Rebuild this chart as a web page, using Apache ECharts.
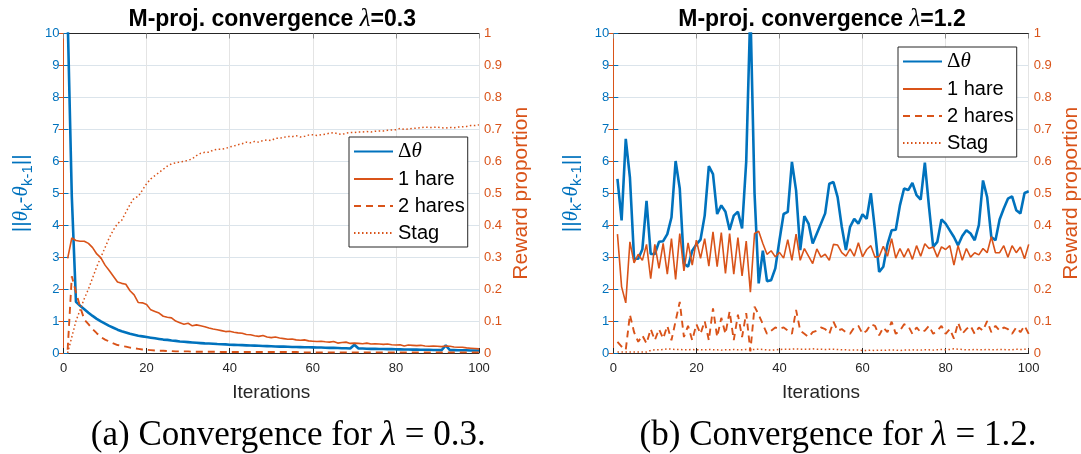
<!DOCTYPE html>
<html><head><meta charset="utf-8">
<script src="https://cdn.jsdelivr.net/npm/echarts@6/dist/echarts.min.js"></script>
<style>html,body{margin:0;padding:0;background:#fff}#c{width:1081px;height:454px}</style>
</head><body><div id="c"></div>
<script>
const iterations = Array.from({length: 100}, (_, i) => i + 1);
const seriesNames = ['Δθ', '1 hare', '2 hares', 'Stag'];
const titles = ['0.3', '1.2'];
const captionLetters = ['a', 'b'];
const xTicks = [0, 20, 40, 60, 80, 100];

// lambda = 0.3
const leftDelta = [10.5,4.9,1.6,1.48,1.37,1.26,1.16,1.07,0.99,0.92,
0.85,0.79,0.73,0.68,0.64,0.6,0.57,0.54,0.52,0.5,
0.48,0.46,0.44,0.42,0.41,0.39,0.38,0.36,0.35,0.34,
0.33,0.32,0.31,0.3,0.295,0.29,0.28,0.275,0.27,0.26,
0.255,0.25,0.245,0.24,0.235,0.23,0.225,0.22,0.215,0.21,
0.205,0.2,0.2,0.195,0.19,0.19,0.185,0.18,0.18,0.175,
0.17,0.17,0.165,0.16,0.16,0.155,0.15,0.15,0.14,0.26,
0.14,0.14,0.135,0.13,0.13,0.125,0.125,0.12,0.12,0.115,
0.115,0.11,0.11,0.105,0.105,0.1,0.1,0.1,0.095,0.095,
0.09,0.24,0.09,0.09,0.085,0.085,0.085,0.08,0.08,0.08];
const leftHare1 = [0.296,0.36,0.352,0.35,0.35,0.343,0.33,0.31,0.298,0.275,
0.258,0.24,0.222,0.218,0.215,0.195,0.182,0.158,0.157,0.152,
0.135,0.13,0.125,0.115,0.112,0.11,0.1,0.095,0.09,0.093,
0.085,0.088,0.085,0.082,0.078,0.075,0.073,0.07,0.067,0.068,
0.065,0.063,0.062,0.058,0.057,0.054,0.052,0.055,0.05,0.048,
0.05,0.047,0.045,0.043,0.044,0.041,0.04,0.041,0.038,0.037,
0.036,0.037,0.035,0.034,0.036,0.031,0.033,0.034,0.03,0.031,
0.03,0.029,0.031,0.028,0.029,0.028,0.027,0.028,0.026,0.025,
0.026,0.022,0.025,0.024,0.023,0.024,0.022,0.021,0.022,0.021,
0.02,0.022,0.021,0.019,0.018,0.018,0.016,0.015,0.014,0.013];
const leftHare2 = [0.01,0.24,0.19,0.145,0.105,0.09,0.075,0.062,0.05,0.042,
0.036,0.03,0.025,0.022,0.02,0.017,0.015,0.013,0.011,0.01,
0.009,0.008,0.007,0.007,0.006,0.006,0.005,0.005,0.005,0.005,
0.004,0.004,0.004,0.004,0.004,0.004,0.004,0.003,0.003,0.003,
0.003,0.003,0.003,0.003,0.003,0.003,0.003,0.003,0.003,0.003,
0.003,0.003,0.003,0.003,0.003,0.003,0.002,0.002,0.002,0.002,
0.002,0.002,0.002,0.002,0.002,0.002,0.002,0.002,0.002,0.002,
0.002,0.002,0.002,0.002,0.002,0.002,0.002,0.002,0.002,0.002,
0.002,0.002,0.002,0.002,0.002,0.002,0.002,0.002,0.002,0.002,
0.002,0.002,0.002,0.002,0.002,0.002,0.002,0.002,0.002,0.002];
const leftStag = [0.0,0.05,0.1,0.135,0.17,0.2,0.235,0.27,0.3,0.33,
0.36,0.385,0.405,0.415,0.44,0.465,0.485,0.49,0.51,0.53,
0.545,0.555,0.565,0.575,0.585,0.592,0.595,0.598,0.6,0.603,
0.608,0.618,0.625,0.628,0.628,0.635,0.638,0.638,0.64,0.645,
0.648,0.652,0.655,0.66,0.658,0.662,0.66,0.665,0.667,0.665,
0.672,0.672,0.675,0.678,0.677,0.68,0.676,0.678,0.682,0.683,
0.681,0.683,0.685,0.688,0.69,0.686,0.684,0.688,0.69,0.69,
0.692,0.692,0.693,0.692,0.694,0.695,0.695,0.697,0.698,0.699,
0.703,0.7,0.701,0.703,0.704,0.705,0.707,0.706,0.706,0.707,
0.705,0.704,0.706,0.705,0.707,0.708,0.709,0.712,0.712,0.714];

// lambda = 1.2
const rightDelta = [5.45,4.15,6.7,5.5,2.95,2.95,3.25,4.76,3.1,3.1,
3.48,3.5,3.72,4.24,6.01,5.15,2.8,2.7,3.2,3.4,
3.55,4.3,5.85,5.6,4.35,4.62,4.42,3.85,4.3,4.42,
3.9,6.0,10.8,5.0,2.18,3.2,2.25,2.28,2.65,3.53,
4.35,4.42,5.98,5.09,3.22,4.28,4.05,3.43,3.74,4.05,
4.37,5.3,5.35,4.88,3.95,3.22,3.95,4.2,4.05,4.34,
4.2,5.0,3.84,2.54,2.7,3.4,3.84,3.86,4.62,5.15,
5.1,5.32,4.94,4.8,5.96,4.57,3.32,3.48,4.18,4.05,
3.84,3.63,3.37,3.66,3.84,3.74,3.53,4.0,5.4,4.88,
3.63,3.53,4.18,4.52,4.83,4.9,4.47,4.37,5.01,5.06];
const rightHare1 = [0.372,0.207,0.157,0.348,0.282,0.309,0.29,0.34,0.233,0.34,
0.265,0.343,0.247,0.358,0.23,0.374,0.257,0.345,0.275,0.353,
0.296,0.358,0.272,0.379,0.27,0.377,0.249,0.374,0.247,0.361,
0.241,0.35,0.19,0.374,0.381,0.343,0.309,0.32,0.301,0.315,
0.297,0.355,0.29,0.372,0.29,0.327,0.303,0.28,0.326,0.3,
0.309,0.29,0.34,0.338,0.314,0.303,0.326,0.303,0.345,0.301,
0.324,0.336,0.3,0.302,0.334,0.303,0.358,0.297,0.327,0.3,
0.327,0.293,0.336,0.303,0.342,0.327,0.332,0.3,0.332,0.324,
0.336,0.275,0.336,0.29,0.327,0.3,0.314,0.307,0.327,0.314,
0.364,0.314,0.314,0.336,0.3,0.336,0.314,0.332,0.295,0.34];
const rightHare2 = [0.035,0.02,0.01,0.12,0.065,0.035,0.055,0.03,0.075,0.04,
0.075,0.045,0.085,0.04,0.1,0.16,0.05,0.085,0.04,0.09,
0.06,0.1,0.04,0.14,0.05,0.11,0.06,0.13,0.04,0.12,
0.05,0.125,0.005,0.145,0.12,0.09,0.06,0.07,0.08,0.075,
0.08,0.07,0.06,0.135,0.07,0.06,0.05,0.065,0.07,0.08,
0.075,0.06,0.098,0.07,0.075,0.065,0.06,0.08,0.085,0.06,
0.07,0.09,0.085,0.055,0.08,0.065,0.098,0.06,0.07,0.09,
0.085,0.06,0.08,0.065,0.07,0.085,0.06,0.07,0.085,0.06,
0.075,0.045,0.095,0.06,0.075,0.085,0.06,0.08,0.07,0.1,
0.065,0.085,0.07,0.08,0.075,0.06,0.08,0.065,0.085,0.06];
const rightStag = [0.003,0.003,0.003,0.003,0.003,0.003,0.003,0.003,0.008,0.01,
0.01,0.011,0.013,0.012,0.011,0.011,0.01,0.01,0.011,0.01,
0.01,0.01,0.011,0.01,0.01,0.009,0.01,0.01,0.011,0.01,
0.01,0.011,0.01,0.011,0.012,0.011,0.01,0.009,0.01,0.011,
0.012,0.012,0.012,0.013,0.012,0.012,0.012,0.013,0.012,0.012,
0.011,0.012,0.012,0.011,0.01,0.01,0.009,0.009,0.009,0.008,
0.008,0.009,0.008,0.009,0.008,0.009,0.009,0.009,0.008,0.009,
0.009,0.01,0.009,0.009,0.01,0.01,0.009,0.01,0.011,0.01,
0.011,0.013,0.012,0.011,0.01,0.01,0.011,0.01,0.01,0.011,
0.01,0.01,0.011,0.011,0.01,0.01,0.012,0.011,0.012,0.011];

const panels = [
  {delta: leftDelta, hare1: leftHare1, hare2: leftHare2, stag: leftStag},
  {delta: rightDelta, hare1: rightHare1, hare2: rightHare2, stag: rightStag}
];

const BLUE = '#0072BD', ORANGE = '#D95319', DARK = '#262626';
const SANS = '"Liberation Sans", Arial, Helvetica, sans-serif';
const SERIF = '"Liberation Serif", "Times New Roman", serif';
const gridPos = [{left: 63.5, width: 415.5}, {left: 613.3, width: 415.4}];
const legendPos = [{left: 349, top: 137}, {left: 898, top: 47}];

const pair = arr => arr.map((v, i) => [iterations[i], v]);

const grid = [], xAxis = [], yAxis = [], series = [], legend = [], title = [];
panels.forEach((p, g) => {
  grid.push({left: gridPos[g].left, width: gridPos[g].width, top: 33.5, bottom: 101, outerBoundsMode: 'none', containLabel: false});
  xAxis.push({
    type: 'value', gridIndex: g, min: 0, max: 100, interval: 20, position: 'bottom',
    axisLine: {show: true, lineStyle: {color: DARK, width: 1}},
    axisTick: {show: true, inside: true, length: 5, lineStyle: {color: DARK}},
    axisLabel: {color: DARK, fontSize: 13, fontFamily: SANS, margin: 9},
    splitLine: {show: true, lineStyle: {color: '#e4e4e4', width: 1}},
    name: 'Iterations', nameLocation: 'middle', nameGap: 30,
    nameTextStyle: {color: DARK, fontSize: 19, fontFamily: SANS}
  });
  xAxis.push({
    type: 'value', gridIndex: g, min: 0, max: 100, interval: 20, position: 'top',
    axisLine: {show: true, onZero: false, lineStyle: {color: DARK, width: 1}},
    axisTick: {show: true, inside: true, length: 5, lineStyle: {color: '#888'}},
    axisLabel: {show: false}, splitLine: {show: false}
  });
  yAxis.push({
    type: 'value', gridIndex: g, min: 0, max: 10, interval: 1, position: 'left',
    axisLine: {show: true, lineStyle: {color: BLUE, width: 1}},
    axisTick: {show: true, inside: true, length: 5, lineStyle: {color: BLUE}},
    axisLabel: {color: BLUE, fontSize: 13, fontFamily: SANS, margin: 4},
    splitLine: {show: true, lineStyle: {color: '#dbe4eb', width: 1}},
    name: '{n|||}{t|θ}{s|k}{n|-}{t|θ}{s|k-1}{n|||}', nameLocation: 'middle', nameGap: 30, nameRotate: 90,
    nameTextStyle: {color: BLUE, rich: {
      n: {color: BLUE, fontSize: 21, fontFamily: SANS, lineHeight: 24},
      t: {color: BLUE, fontSize: 21, fontFamily: SERIF, fontStyle: 'italic', lineHeight: 24},
      s: {color: BLUE, fontSize: 15, fontFamily: SANS, lineHeight: 16, padding: [12, 0, 0, 0]}
    }}
  });
  yAxis.push({
    type: 'value', gridIndex: g, min: 0, max: 1, interval: 0.1, position: 'right',
    axisLine: {show: true, lineStyle: {color: ORANGE, width: 1}},
    axisTick: {show: true, inside: true, length: 5, lineStyle: {color: ORANGE}},
    axisLabel: {color: ORANGE, fontSize: 13, fontFamily: SANS, margin: 5,
      formatter: v => (Math.round(v * 10) / 10).toString()},
    splitLine: {show: false},
    name: 'Reward proportion', nameLocation: 'middle', nameGap: 32, nameRotate: 90,
    nameTextStyle: {color: ORANGE, fontSize: 21, fontFamily: SANS}
  });
  const xi = 2 * g, yl = 2 * g, yr = 2 * g + 1;
  series.push({name: seriesNames[0], type: 'line', xAxisIndex: xi, yAxisIndex: yl, data: pair(p.delta),
    symbol: 'none', clip: true, lineStyle: {color: BLUE, width: 2.6}, itemStyle: {color: BLUE}, z: 2});
  series.push({name: seriesNames[1], type: 'line', xAxisIndex: xi, yAxisIndex: yr, data: pair(p.hare1),
    symbol: 'none', clip: true, lineStyle: {color: ORANGE, width: 1.6}, itemStyle: {color: ORANGE}, z: 3});
  series.push({name: seriesNames[2], type: 'line', xAxisIndex: xi, yAxisIndex: yr, data: pair(p.hare2),
    symbol: 'none', clip: true, lineStyle: {color: ORANGE, width: 1.9, type: [7, 5]}, itemStyle: {color: ORANGE}, z: 3});
  series.push({name: seriesNames[3], type: 'line', xAxisIndex: xi, yAxisIndex: yr, data: pair(p.stag),
    symbol: 'none', clip: true, lineStyle: {color: ORANGE, width: 1.5, type: [1.5, 2.5]}, itemStyle: {color: ORANGE}, z: 3});
  legend.push({
    data: seriesNames, orient: 'vertical', left: legendPos[g].left, top: legendPos[g].top,
    itemWidth: 39, itemHeight: 14, itemGap: 7, padding: [4, 3, 4, 4],
    borderColor: DARK, borderWidth: 1, backgroundColor: '#fff', borderRadius: 0,
    selectedMode: false,
    itemStyle: {opacity: 0, borderWidth: 0},
    textStyle: {color: '#000', fontSize: 20, fontFamily: SANS, rich: {
      d: {fontSize: 21, fontFamily: SERIF, color: '#000'},
      th: {fontSize: 21, fontFamily: SERIF, fontStyle: 'italic', color: '#000'}
    }},
    formatter: name => name === 'Δθ' ? '{d|Δ}{th|θ}' : name
  });
  const cx = gridPos[g].left + gridPos[g].width / 2;
  title.push({
    text: '{b|M-proj. convergence }{l|λ}{b|=' + titles[g] + '}',
    left: cx - 4, top: 2, textAlign: 'center',
    textStyle: {rich: {
      b: {fontSize: 23, fontWeight: 'bold', fontFamily: SANS, color: '#000'},
      l: {fontSize: 25, fontStyle: 'italic', fontWeight: 'normal', fontFamily: SERIF, color: '#000'}
    }}
  });
  title.push({
    text: '{r|(' + captionLetters[g] + ') Convergence for }{l|λ}{r| = ' + titles[g] + '.}',
    left: cx + 12, top: 413, textAlign: 'center',
    textStyle: {fontWeight: 'normal', rich: {
      r: {fontSize: 35, fontWeight: 'normal', fontFamily: SERIF, color: '#000'},
      l: {fontSize: 35, fontWeight: 'normal', fontFamily: SERIF, fontStyle: 'italic', color: '#000'}
    }}
  });
});

const chart = echarts.init(document.getElementById('c'), null, {renderer: 'canvas'});
chart.setOption({animation: false, backgroundColor: '#fff', grid, xAxis, yAxis, series, legend, title});
</script></body></html>
